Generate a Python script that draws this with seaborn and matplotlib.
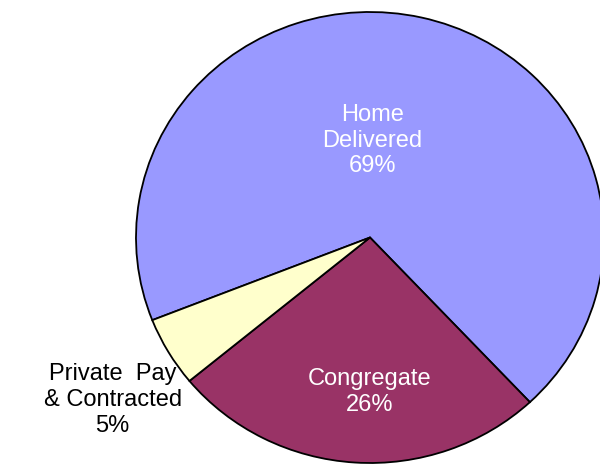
import matplotlib
matplotlib.use("Agg")
import matplotlib.pyplot as plt
import seaborn as sns

categories = ["Home\nDelivered", "Congregate", "Private  Pay\n& Contracted"]
shares = [69, 26, 5]
slice_colors = ["#9999FF", "#993366", "#FFFFCC"]
label_colors = ["white", "white", "black"]
# label centres in pie units (radius 1)
label_pos = [(0.01, 0.43), (0.0, -0.685), (-1.10, -0.72)]

sns.set_theme(style="white")
plt.rcParams['font.family'] = ['Liberation Sans', 'DejaVu Sans']

fig = plt.figure(figsize=(6, 4.66), dpi=100)
# pie is a bit wider than tall and runs off the right edge
ax = fig.add_axes([136 / 600, 3 / 466, 468 / 600, 451 / 466])

wedges, _ = ax.pie(shares, colors=slice_colors, startangle=201.5, counterclock=False,
                   radius=1, wedgeprops=dict(edgecolor="black", linewidth=1.3))
ax.set_aspect("auto")
ax.set_xlim(-1, 1)
ax.set_ylim(-1, 1)
ax.set_axis_off()

for name, pct, col, (x, y) in zip(categories, shares, label_colors, label_pos):
    ax.text(x, y, f"{name}\n{pct}%", ha="center", va="center", color=col,
            fontsize=17, linespacing=1.22, clip_on=False)

fig.savefig("out.png", dpi=100)
